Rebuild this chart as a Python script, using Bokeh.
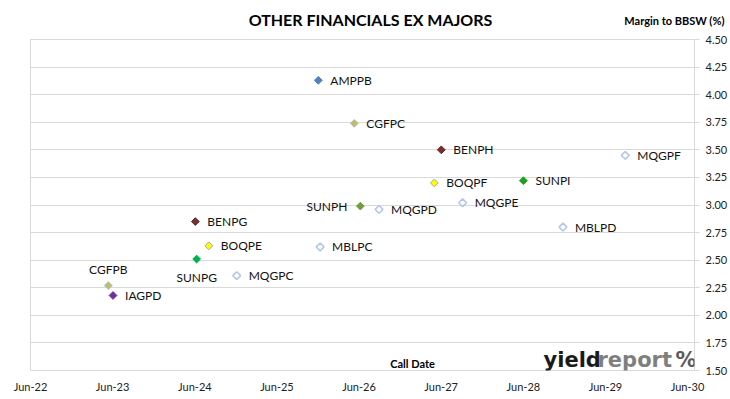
import math
import pandas as pd
from bokeh.plotting import figure
from bokeh.models import (ColumnDataSource, Range1d, FixedTicker, DatetimeTickFormatter,
                          NumeralTickFormatter, Label)
from bokeh.core.properties import value
from bokeh.embed import file_html
from bokeh.resources import INLINE

# ---------------- data ----------------
securities = ["AMPPB", "CGFPC", "BENPH", "BOQPF", "SUNPH", "MQGPD", "MQGPE", "SUNPI", "MQGPF",
              "MBLPD", "BENPG", "BOQPE", "MBLPC", "SUNPG", "MQGPC", "CGFPB", "IAGPD"]
call_dates = ["2025-12-02", "2026-05-11", "2027-06-02", "2027-05-02", "2026-06-07", "2026-08-29",
              "2027-09-05", "2028-06-01", "2029-08-28", "2028-11-24", "2024-06-03", "2024-08-02",
              "2025-12-10", "2024-06-09", "2024-12-04", "2023-05-13", "2023-06-03"]
margins = [4.13, 3.74, 3.50, 3.20, 2.99, 2.96, 3.02, 3.22, 3.45,
           2.80, 2.85, 2.63, 2.62, 2.51, 2.36, 2.27, 2.18]

x_tick_dates = ["2022-06-01", "2023-06-01", "2024-06-01", "2025-06-01", "2026-06-01",
                "2027-06-01", "2028-06-01", "2029-06-01", "2030-06-01"]
y_ticks = [1.50, 1.75, 2.00, 2.25, 2.50, 2.75, 3.00, 3.25, 3.50, 3.75, 4.00, 4.25, 4.50]

# ---------------- styles ----------------
fill_map = {"AMPPB": "#4F81BD", "CGFPC": "#C4BD5A", "CGFPB": "#C4BD5A",
            "BENPH": "#7B2D2D", "BENPG": "#7B2D2D", "BOQPF": "#FFFF00", "BOQPE": "#FFFF00",
            "SUNPI": "#1CA31C", "SUNPG": "#00B050", "SUNPH": "#6E9E3C", "IAGPD": "#7030A0"}
line_map = {"AMPPB": "#4F81BD", "CGFPC": "#9DC3E6", "CGFPB": "#9DC3E6",
            "BENPH": "#632523", "BENPG": "#632523", "BOQPF": "#A5A5A5", "BOQPE": "#A5A5A5",
            "SUNPI": "#1CA31C", "SUNPG": "#00B050", "SUNPH": "#6E9E3C", "IAGPD": "#7030A0"}
hollow_line = "#B4C7E7"
label_place = {"SUNPH": (-13, 0, "right"), "CGFPB": (0, -16, "center"), "SUNPG": (0, 18, "center")}

fills = [fill_map.get(s, "#FFFFFF") for s in securities]
lines = [line_map.get(s, hollow_line) for s in securities]
dx = [label_place.get(s, (12, 0, "left"))[0] for s in securities]
dy = [label_place.get(s, (12, 0, "left"))[1] for s in securities]
al = [label_place.get(s, (12, 0, "left"))[2] for s in securities]
lw = [1.6 if s not in fill_map else 1.0 for s in securities]

src = ColumnDataSource(dict(date=pd.to_datetime(call_dates), margin=margins, name=securities,
                            fill=fills, line=lines, dx=dx, dy=dy, align=al, lw=lw))

x_start = pd.Timestamp("2022-06-01")
x_end = pd.Timestamp("2030-07-02")

p = figure(width=730, height=399, x_axis_type="datetime", output_backend="svg",
           toolbar_location=None, x_range=Range1d(x_start, x_end), y_range=Range1d(1.5, 4.5),
           y_axis_location="right", min_border_left=30, min_border_top=39,
           min_border_right=36, min_border_bottom=29)
p.background_fill_color = "white"
p.border_fill_color = "white"
p.outline_line_color = "#D9D9D9"

# x axis
xticks_ms = [pd.Timestamp(d).value // 10**6 for d in x_tick_dates]
p.xaxis.ticker = FixedTicker(ticks=xticks_ms)
p.xaxis.formatter = DatetimeTickFormatter(years="%b-%y", months="%b-%y", days="%b-%y")
p.xaxis.axis_line_color = None
p.xaxis.major_tick_line_color = None
p.xaxis.major_tick_out = 0
p.xaxis.major_tick_in = 0
p.xaxis.minor_tick_line_color = None
p.xaxis.major_label_text_font = "Lato"
p.xaxis.major_label_text_font_size = "11px"
p.xaxis.major_label_text_color = "#222222"
p.xaxis.major_label_standoff = 9
p.xgrid.grid_line_color = None

# y axis
p.yaxis.ticker = FixedTicker(ticks=y_ticks)
p.yaxis.formatter = NumeralTickFormatter(format="0.00")
p.yaxis.axis_line_color = "#D9D9D9"
p.yaxis.major_tick_line_color = "#D9D9D9"
p.yaxis.major_tick_out = 5
p.yaxis.major_tick_in = 0
p.yaxis.minor_tick_line_color = None
p.yaxis.major_label_text_font = "Lato"
p.yaxis.major_label_text_font_size = "11px"
p.yaxis.major_label_text_color = "#222222"
p.yaxis.major_label_standoff = 6
p.ygrid.ticker = FixedTicker(ticks=y_ticks)
p.ygrid.grid_line_color = "#D9D9D9"

# points and labels
p.scatter(x="date", y="margin", source=src, marker="square", angle=math.pi / 4, size=5.5,
          fill_color="fill", line_color="line", line_width="lw")
p.text(x="date", y="margin", text="name", source=src, x_offset="dx", y_offset="dy",
       text_align="align", text_baseline="middle", text_font=value("Lato"),
       text_font_size="12px", text_color="#111111")

# titles (placed in the top panel so they are not clipped by the frame)
p.add_layout(Label(x=340, y=20, x_units="screen", y_units="screen",
                   text="OTHER FINANCIALS EX MAJORS", text_align="center", text_baseline="middle",
                   text_font="Lato", text_font_style="bold", text_font_size="16px",
                   text_color="#000000"), "above")
p.add_layout(Label(x=694, y=0, x_units="screen", y_units="screen",
                   text="Margin to BBSW (%)", text_align="right", text_baseline="middle",
                   text_font="Lato", text_font_style="bold", text_font_size="11px",
                   text_color="#000000"), "above")

# in-frame annotations
p.add_layout(Label(x=382, y=7, x_units="screen", y_units="screen",
                   text="Call Date", text_align="center", text_baseline="middle",
                   text_font="Lato", text_font_style="bold", text_font_size="11px",
                   text_color="#000000"))
p.add_layout(Label(x=513, y=11, x_units="screen", y_units="screen", text="yield",
                   text_align="left", text_baseline="alphabetic", text_font="DejaVu Sans",
                   text_font_style="bold", text_font_size="21px", text_color="#1A1A1A"))
p.add_layout(Label(x=567, y=11, x_units="screen", y_units="screen", text="report",
                   text_align="left", text_baseline="alphabetic", text_font="DejaVu Sans",
                   text_font_style="bold", text_font_size="21px", text_color="#7F7F7F"))
p.add_layout(Label(x=645, y=11, x_units="screen", y_units="screen", text="%",
                   text_align="left", text_baseline="alphabetic", text_font="DejaVu Sans",
                   text_font_style="bold", text_font_size="21px", text_color="#5A5A5A"))

open("out.html", "w").write(file_html(p, INLINE))
